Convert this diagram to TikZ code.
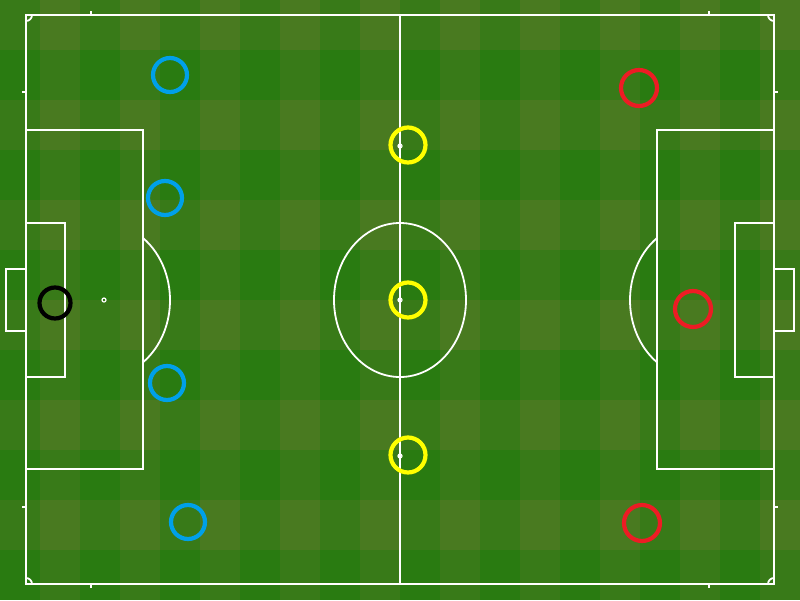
\documentclass[tikz,border=0pt]{standalone}
\usepackage{xcolor}
\usepackage{tikz}
\usetikzlibrary{positioning, calc}

\definecolor{grass0}{RGB}{41,123,17}
\definecolor{grass1}{RGB}{56,122,24}
\definecolor{grass2}{RGB}{73,122,32}
\definecolor{homeblue}{RGB}{0,160,233}
\definecolor{awayred}{RGB}{237,28,36}
\definecolor{midyellow}{RGB}{255,255,0}

\begin{document}
\begin{tikzpicture}[
    x=1pt, y=-1pt,
    pitchline/.style={
        draw=white,
        line width=1.8pt
    },
    spot/.style={
        circle,
        draw=white,
        line width=1.2pt,
        inner sep=0pt,
        minimum size=4pt
    },
    player/.style={
        circle,
        line width=4.2pt,
        inner sep=0pt,
        minimum size=34pt
    }
]

    \useasboundingbox (0,0) rectangle (800,600);

    % Grass checks, 40 wide and 50 high
    \foreach \i in {0,...,19} {
        \foreach \j in {0,...,11} {
            \pgfmathtruncatemacro{\lvl}{mod(\i,2)+1-mod(\j,2)}
            \fill[grass\lvl] (\i*40,\j*50) rectangle ++(40,50);
        }
    }

    % Outer lines and halfway line
    \draw[pitchline] (26,15) rectangle (774,584);
    \draw[pitchline] (400,15) -- (400,584);
    \draw[pitchline] (400,300) ellipse [x radius=66pt, y radius=77pt];

    % Left end
    \draw[pitchline] (26,130) rectangle (143,469);
    \draw[pitchline] (26,223) rectangle (65,377);
    \draw[pitchline] (26,269) rectangle (6,331);
    \draw[pitchline] (143,238) arc[start angle=53.8, end angle=-53.8, x radius=66pt, y radius=77pt];

    % Right end
    \draw[pitchline] (657,130) rectangle (774,469);
    \draw[pitchline] (735,223) rectangle (774,377);
    \draw[pitchline] (774,269) rectangle (794,331);
    \draw[pitchline] (657,238) arc[start angle=126.2, end angle=233.8, x radius=66pt, y radius=77pt];

    % Corner arcs
    \draw[pitchline] (32,15) arc[start angle=0, end angle=-90, radius=6pt];
    \draw[pitchline] (768,15) arc[start angle=180, end angle=270, radius=6pt];
    \draw[pitchline] (32,584) arc[start angle=0, end angle=90, radius=6pt];
    \draw[pitchline] (768,584) arc[start angle=180, end angle=90, radius=6pt];

    % Small marks outside the lines
    \draw[pitchline] (91,15) -- (91,11);
    \draw[pitchline] (709,15) -- (709,11);
    \draw[pitchline] (91,584) -- (91,588);
    \draw[pitchline] (709,584) -- (709,588);
    \draw[pitchline] (26,92) -- (22,92);
    \draw[pitchline] (26,507) -- (22,507);
    \draw[pitchline] (774,92) -- (778,92);
    \draw[pitchline] (774,507) -- (778,507);

    % Spots
    \node[spot] (centrespot) at (400,300) {};
    \node[spot] (topspot) at (400,146) {};
    \node[spot] (bottomspot) at (400,456) {};
    \node[spot] (penspot) at (104,300) {};

    % Players
    \node[player, draw=black, minimum size=31pt] (keeper) at (55,303) {};
    \node[player, draw=homeblue] (blueA) at (170,75) {};
    \node[player, draw=homeblue] (blueB) at (165,198) {};
    \node[player, draw=homeblue] (blueC) at (167,383) {};
    \node[player, draw=homeblue] (blueD) at (188,522) {};
    \node[player, draw=midyellow, minimum size=35pt] (yellowA) at (408,145) {};
    \node[player, draw=midyellow, minimum size=35pt] (yellowB) at (408,300) {};
    \node[player, draw=midyellow, minimum size=35pt] (yellowC) at (408,455) {};
    \node[player, draw=awayred, minimum size=36pt] (redA) at (639,88) {};
    \node[player, draw=awayred, minimum size=36pt] (redB) at (693,309) {};
    \node[player, draw=awayred, minimum size=36pt] (redC) at (642,523) {};

\end{tikzpicture}
\end{document}
